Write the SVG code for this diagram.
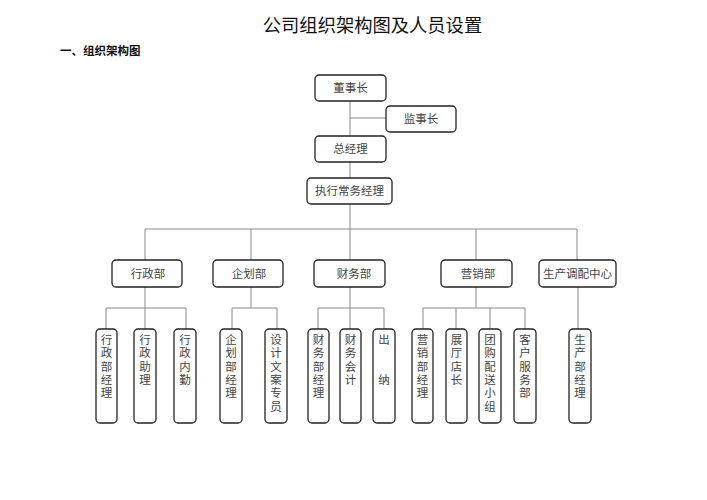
<svg xmlns="http://www.w3.org/2000/svg" width="707" height="500" viewBox="0 0 707 500">
<style>
.box{fill:#fff;stroke:#222;stroke-width:1.3}
.ln{stroke:#8a8a8a;stroke-width:1;fill:none}
.t{font-family:"Noto Sans CJK SC","Noto Sans CJK TC",sans-serif;font-size:11.5px;fill:#444;text-anchor:middle}
.v{font-family:"Noto Sans CJK SC","Noto Sans CJK TC",sans-serif;font-size:11.5px;fill:#444;writing-mode:vertical-rl;letter-spacing:1.8px}
</style>
<rect width="707" height="500" fill="#fff"/>
<text x="372.5" y="32" font-family="Noto Sans CJK SC, sans-serif" font-size="18.3" fill="#111" text-anchor="middle">公司组织架构图及人员设置</text>
<text x="60" y="55" font-family="Noto Sans CJK SC, sans-serif" font-size="11.5" font-weight="bold" fill="#111">一、组织架构图</text>
<g id="connectors" class="ln">
<path d="M350 101V136M350 118H386M350 162V178M350 204V260"/>
<path d="M145 229H577M145 229V260M251 229V260M476 229V260M577 229V260"/>
<path d="M145 287V329M106 308H186M106 308V329M186 308V329"/>
<path d="M251 287V308M232 308H277M232 308V329M277 308V329"/>
<path d="M350 287V329M318 308H384M318 308V329M384 308V329"/>
<path d="M476 287V308M423 308H525M423 308V329M456 308V329M490 308V329M525 308V329"/>
<path d="M578 287V329"/>
</g>
<g id="n-dongshizhang"><rect class="box" x="315" y="75" width="71" height="26" rx="4"/><text class="t" x="350.5" y="92">董事长</text></g>
<g id="n-jianshizhang"><rect class="box" x="386" y="106" width="70" height="26" rx="4"/><text class="t" x="421" y="123">监事长</text></g>
<g id="n-zongjingli"><rect class="box" x="315" y="136" width="71" height="26" rx="4"/><text class="t" x="350.5" y="153">总经理</text></g>
<g id="n-zhixing"><rect class="box" x="307" y="178" width="85" height="26" rx="4"/><text class="t" x="349.5" y="195">执行常务经理</text></g>
<g id="n-xingzhengbu"><rect class="box" x="112" y="260" width="70" height="27" rx="4"/><text class="t" x="148" y="277.5">行政部</text></g>
<g id="n-qihuabu"><rect class="box" x="213" y="260" width="70" height="27" rx="4"/><text class="t" x="249" y="277.5">企划部</text></g>
<g id="n-caiwubu"><rect class="box" x="314" y="260" width="71" height="27" rx="4"/><text class="t" x="354" y="277.5">财务部</text></g>
<g id="n-yingxiaobu"><rect class="box" x="441" y="260" width="71" height="27" rx="4"/><text class="t" x="478" y="277.5">营销部</text></g>
<g id="n-shengchan"><rect class="box" x="539" y="260" width="77" height="27" rx="4"/><text class="t" x="577.5" y="277.5">生产调配中心</text></g>
<g id="n-xzbjl"><rect class="box" x="96" y="329" width="21" height="94" rx="4"/><text class="v" x="106.5" y="334">行政部经理</text></g>
<g id="n-xzzl"><rect class="box" x="134" y="329" width="22" height="94" rx="4"/><text class="v" x="145" y="334">行政助理</text></g>
<g id="n-xznq"><rect class="box" x="174" y="329" width="22" height="94" rx="4"/><text class="v" x="185" y="334">行政内勤</text></g>
<g id="n-qhbjl"><rect class="box" x="220" y="329" width="22" height="94" rx="4"/><text class="v" x="231" y="334">企划部经理</text></g>
<g id="n-sjwazy"><rect class="box" x="265" y="329" width="22" height="94" rx="4"/><text class="v" x="276" y="334">设计文案专员</text></g>
<g id="n-cwbjl"><rect class="box" x="308" y="329" width="21" height="94" rx="4"/><text class="v" x="318.5" y="334">财务部经理</text></g>
<g id="n-cwkj"><rect class="box" x="340" y="329" width="21" height="94" rx="4"/><text class="v" x="350.5" y="334">财务会计</text></g>
<g id="n-chuna"><rect class="box" x="373" y="329" width="22" height="94" rx="4"/><text class="v" x="384" y="334">出　　纳</text></g>
<g id="n-yxbjl"><rect class="box" x="412" y="329" width="21" height="94" rx="4"/><text class="v" x="422.5" y="334">营销部经理</text></g>
<g id="n-ztdz"><rect class="box" x="446" y="329" width="21" height="94" rx="4"/><text class="v" x="456.5" y="334">展厅店长</text></g>
<g id="n-tgps"><rect class="box" x="479" y="329" width="22" height="94" rx="4"/><text class="v" x="490" y="334">团购配送小组</text></g>
<g id="n-khfw"><rect class="box" x="514" y="329" width="22" height="94" rx="4"/><text class="v" x="525" y="334">客户服务部</text></g>
<g id="n-scbjl"><rect class="box" x="569" y="329" width="22" height="94" rx="4"/><text class="v" x="580" y="334">生产部经理</text></g>
</svg>
